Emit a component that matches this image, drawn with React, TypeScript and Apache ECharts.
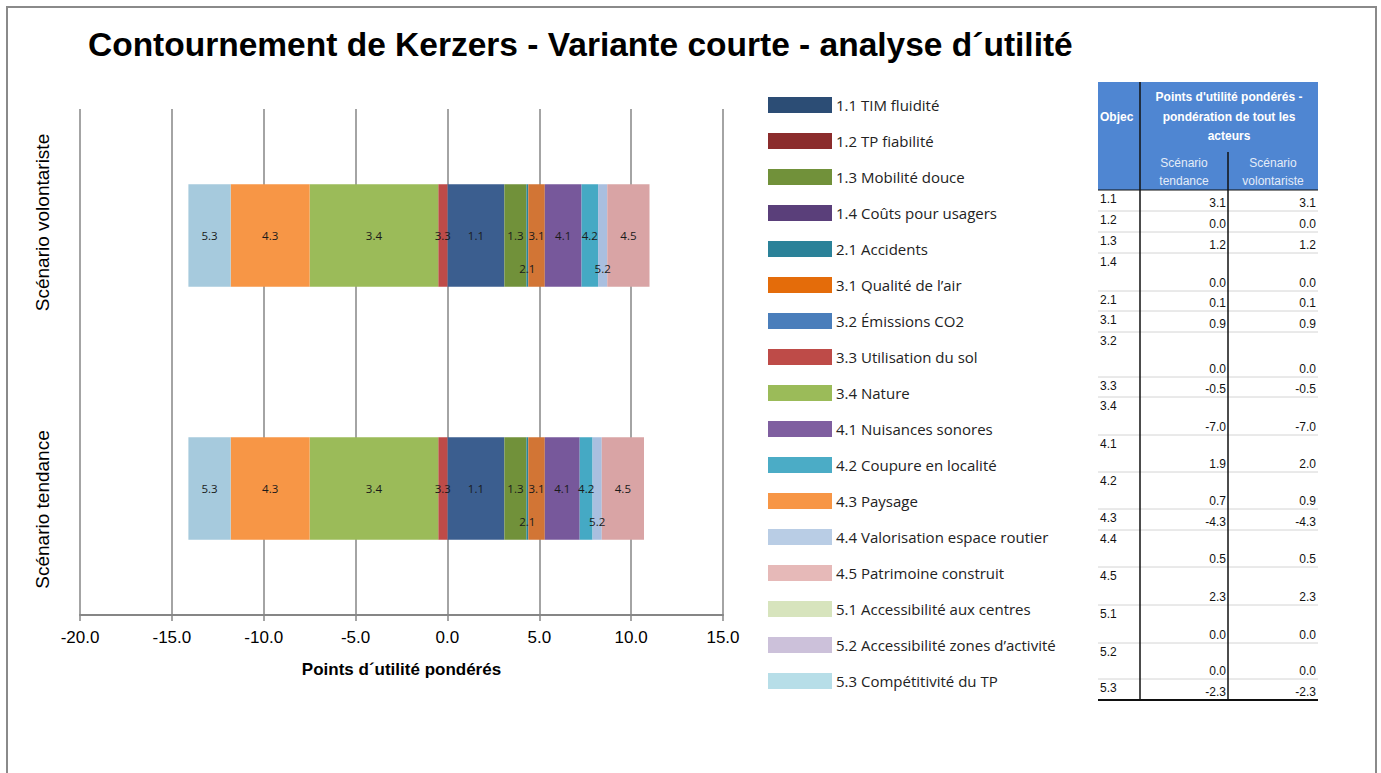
import React, { useEffect, useRef } from "react";
import * as echarts from "echarts";

const scenarios = ["Scénario tendance", "Scénario volontariste"];
const codes = ["1.1", "1.2", "1.3", "1.4", "2.1", "3.1", "3.2", "3.3", "3.4", "4.1", "4.2", "4.3", "4.4", "4.5", "5.1", "5.2", "5.3"];
const names = [
  "1.1 TIM fluidité",
  "1.2 TP fiabilité",
  "1.3 Mobilité douce",
  "1.4 Coûts pour usagers",
  "2.1 Accidents",
  "3.1 Qualité de l’air",
  "3.2 Émissions CO2",
  "3.3 Utilisation du sol",
  "3.4 Nature",
  "4.1 Nuisances sonores",
  "4.2 Coupure en localité",
  "4.3 Paysage",
  "4.4 Valorisation espace routier",
  "4.5 Patrimoine construit",
  "5.1 Accessibilité aux centres",
  "5.2 Accessibilité zones d’activité",
  "5.3 Compétitivité du TP",
];
const tendance = [3.1, 0.0, 1.2, 0.0, 0.1, 0.9, 0.0, -0.5, -7.0, 1.9, 0.7, -4.3, 0.5, 2.3, 0.0, 0.0, -2.3];
const volontariste = [3.1, 0.0, 1.2, 0.0, 0.1, 0.9, 0.0, -0.5, -7.0, 2.0, 0.9, -4.3, 0.5, 2.3, 0.0, 0.0, -2.3];
const xTicks = [-20, -15, -10, -5, 0, 5, 10, 15];

const colors = [
  "#3b5e8f", "#8b2d2b", "#71913a", "#5a3f7c", "#2c8399", "#d27535", "#4a7ebb", "#be4b48",
  "#9bbb59", "#77589b", "#45a9c4", "#f79646", "#a9bfdf", "#d9a4a5", "#d7e4bd", "#ccc1da", "#a6cadd",
];
const legendColors = [
  "#2c4d75", "#8b2c2c", "#71913a", "#5a3f7a", "#2b8299", "#e46c0a", "#4a7ebb", "#be4b48",
  "#9bbb59", "#7f5fa0", "#4bacc6", "#f79646", "#b9cde5", "#e6b9b8", "#d7e4bd", "#ccc1da", "#b7dee8",
];

// table layout (row boundaries)
const rowBounds = [190, 211, 232, 253, 291, 311, 332, 377, 397, 435, 472, 509, 530, 567, 605, 643, 679, 700];

export default function App() {
  const ref = useRef<HTMLDivElement>(null);
  useEffect(() => {
    if (!ref.current) return;
    const chart = echarts.init(ref.current, null, { renderer: "svg" });

    const series = codes.map((code, i) => {
      let labelText = code;
      let pos: any = "inside";
      let dist = 5;
      if (code === "2.1") { pos = "insideBottom"; dist = 12; }
      if (code === "4.4") { labelText = "5.2"; pos = "insideBottom"; dist = 12; }
      return {
        name: names[i],
        type: "bar",
        stack: "total",
        barWidth: "40.5%",
        data: [tendance[i], volontariste[i]],
        itemStyle: { color: colors[i] },
        label: {
          show: true,
          position: pos,
          distance: dist,
          color: "#1a1a1a",
          fontSize: 11.5,
          fontFamily: "Open Sans, sans-serif",
          formatter: (p: any) => (p.value === 0 ? "" : labelText),
        },
        emphasis: { disabled: true },
      };
    });

    const font = "Liberation Sans, Arial, sans-serif";
    const tbl: any[] = [];
    tbl.push({ type: "rect", shape: { x: 1098, y: 82, width: 220, height: 108 }, style: { fill: "#4f86d2" } });
    tbl.push({ type: "rect", shape: { x: 1098, y: 190, width: 220, height: 511 }, style: { fill: "#ffffff" } });
    tbl.push({ type: "text", x: 1100, y: 117, style: { text: "Objec", fill: "#ffffff", font: `bold 12px ${font}`, verticalAlign: "middle" } });
    ["Points d'utilité pondérés -", "pondération de tout les", "acteurs"].forEach((t, k) => {
      tbl.push({ type: "text", x: 1229, y: [97, 117, 136][k], style: { text: t, fill: "#ffffff", font: `bold 12px ${font}`, align: "center", verticalAlign: "middle" } });
    });
    [["Scénario", "tendance", 1184], ["Scénario", "volontariste", 1273]].forEach(([a, b, cx]) => {
      tbl.push({ type: "text", x: cx, y: 163, style: { text: a, fill: "#e4ecf8", font: `12px ${font}`, align: "center", verticalAlign: "middle" } });
      tbl.push({ type: "text", x: cx, y: 181, style: { text: b, fill: "#e4ecf8", font: `12px ${font}`, align: "center", verticalAlign: "middle" } });
    });
    codes.forEach((code, i) => {
      const y0 = rowBounds[i];
      const y1 = rowBounds[i + 1];
      tbl.push({ type: "line", shape: { x1: 1098, y1: y1, x2: 1318, y2: y1 }, style: { stroke: "#d4d4d4", lineWidth: 1 } });
      tbl.push({ type: "text", x: 1100, y: y0 + 3, style: { text: code, fill: "#111", font: `12px ${font}`, verticalAlign: "top" } });
      tbl.push({ type: "text", x: 1226, y: y1 - 2, style: { text: tendance[i].toFixed(1), fill: "#111", font: `12px ${font}`, align: "right", verticalAlign: "bottom" } });
      tbl.push({ type: "text", x: 1316, y: y1 - 2, style: { text: volontariste[i].toFixed(1), fill: "#111", font: `12px ${font}`, align: "right", verticalAlign: "bottom" } });
    });
    tbl.push({ type: "line", shape: { x1: 1140, y1: 82, x2: 1140, y2: 701 }, style: { stroke: "#111", lineWidth: 1.5 } });
    tbl.push({ type: "line", shape: { x1: 1228, y1: 152, x2: 1228, y2: 701 }, style: { stroke: "#111", lineWidth: 1.5 } });
    tbl.push({ type: "line", shape: { x1: 1098, y1: 700, x2: 1318, y2: 700 }, style: { stroke: "#111", lineWidth: 2 } });
    tbl.push({ type: "line", shape: { x1: 1098, y1: 190, x2: 1318, y2: 190 }, style: { stroke: "#111", lineWidth: 1 } });

    chart.setOption({
      animation: false,
      backgroundColor: "#ffffff",
      title: {
        text: "Contournement de Kerzers - Variante courte - analyse d´utilité",
        left: 83,
        top: 22,
        textStyle: { fontFamily: font, fontWeight: "bold", fontSize: 33.5, color: "#000" },
      },
      legend: {
        orient: "vertical",
        left: 763,
        top: 92,
        itemWidth: 64,
        itemHeight: 16,
        itemGap: 20,
        icon: "rect",
        selectedMode: false,
        data: names.map((n, i) => ({ name: n, itemStyle: { color: legendColors[i] } })),
        textStyle: { fontFamily: "Open Sans, sans-serif", fontSize: 15, color: "#222", padding: [0, 0, 0, -1] },
      },
      grid: { left: 80, right: 658, top: 109, bottom: 158, containLabel: false },
      xAxis: {
        type: "value",
        min: -20,
        max: 15,
        interval: 5,
        name: "Points d´utilité pondérés",
        nameLocation: "middle",
        nameGap: 46,
        nameTextStyle: { fontFamily: font, fontWeight: "bold", fontSize: 17, color: "#000" },
        axisLine: { show: true, lineStyle: { color: "#868686", width: 2 } },
        axisTick: { show: true, length: 6, lineStyle: { color: "#868686", width: 1.5 } },
        splitLine: { show: true, lineStyle: { color: "#868686", width: 1.5 } },
        axisLabel: {
          margin: 14,
          fontFamily: font,
          fontSize: 17,
          color: "#000",
          customValues: xTicks,
          formatter: (v: number) => v.toFixed(1),
        },
      },
      yAxis: {
        type: "category",
        data: scenarios,
        axisLine: { show: false },
        axisTick: { show: false },
        axisLabel: {
          interval: 0,
          hideOverlap: false,
          rotate: 90,
          margin: 28,
          fontFamily: font,
          fontSize: 19,
          color: "#000",
          formatter: (v: string) => (v === scenarios[1] ? `{up|${v}}` : `{down|${v}}`),
          rich: {
            up: { fontFamily: font, fontSize: 19, color: "#000", padding: [0, 0, 0, 26] },
            down: { fontFamily: font, fontSize: 19, color: "#000", padding: [0, 42, 0, 0] },
          },
        },
      },
      series,
      graphic: [
        { type: "rect", shape: { x: 7, y: 7, width: 1369, height: 820 }, style: { fill: "none", stroke: "#8a8a8a", lineWidth: 2 } },
        ...tbl,
      ],
    });
    return () => chart.dispose();
  }, []);
  return <div ref={ref} style={{ position: "absolute", left: 0, top: 0, width: 1381, height: 773 }} />;
}
